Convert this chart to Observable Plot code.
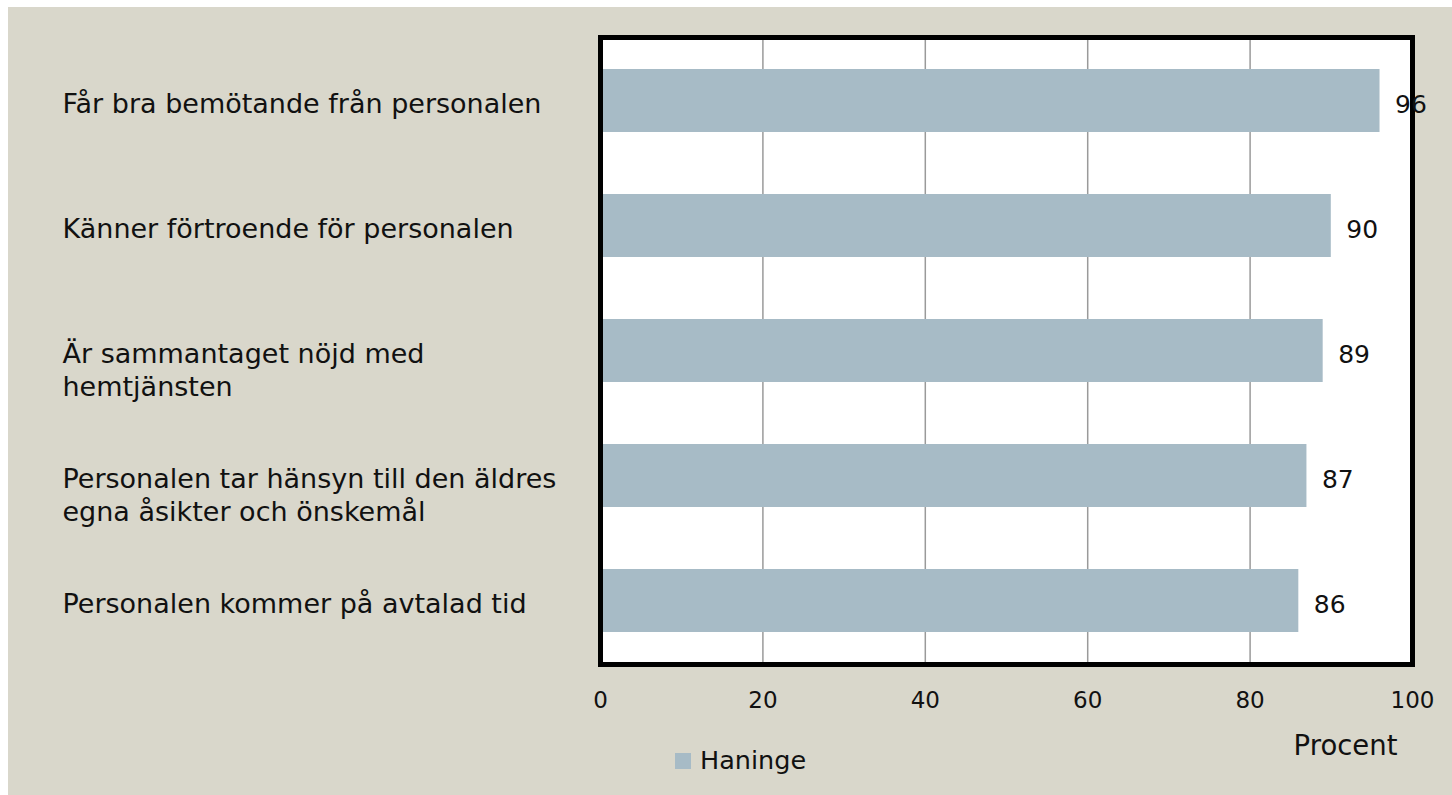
<!DOCTYPE html>
<html>
<head>
<meta charset="utf-8">
<script src="https://cdn.jsdelivr.net/npm/d3@7"></script>
<script src="https://cdn.jsdelivr.net/npm/@observablehq/plot@0.6"></script>
<style>
  html, body { margin: 0; padding: 0; background: #ffffff; overflow: hidden; }
  #chart { position: absolute; left: 8px; top: 7px; width: 1460px; height: 810px; background: #d9d7cb; overflow: hidden; }
  #chart svg { display: block; }
  .lg-swatch { position: absolute; left: 667px; top: 746px; width: 16px; height: 16px; background: #a7bbc6; }
  .lg-text { position: absolute; left: 692px; top: 741px; font-family: "DejaVu Sans", sans-serif; font-size: 25.5px; line-height: 25px; color: #111; white-space: nowrap; }
</style>
</head>
<body>
<div id="chart"></div>
<script>
const categories = [
  "Får bra bemötande från personalen",
  "Känner förtroende för personalen",
  "Är sammantaget nöjd med\nhemtjänsten",
  "Personalen tar hänsyn till den äldres\negna åsikter och önskemål",
  "Personalen kommer på avtalad tid"
];
const values = [96, 90, 89, 87, 86];
const xTicks = [0, 20, 40, 60, 80, 100];
const gridTicks = [20, 40, 60, 80];
const seriesName = "Haninge";
const axisTitle = "Procent";

const barColor = "#a7bbc6";
const font = "DejaVu Sans, sans-serif";

const rows = categories.map((c, i) => ({category: c, value: values[i]}));

const chart = Plot.plot({
  width: 1444,
  height: 788,
  marginLeft: 592,
  marginRight: 40,
  marginTop: 30,
  marginBottom: 131,
  style: {background: "transparent", fontFamily: font, fontSize: "25px", color: "#111"},
  x: {domain: [0, 100], axis: null},
  y: {domain: categories, axis: null, paddingInner: 0.5, paddingOuter: 0.25},
  marks: [
    Plot.frame({fill: "white", stroke: null}),
    Plot.gridX(gridTicks, {stroke: "#9a9a9a", strokeOpacity: 1, strokeWidth: 1.5}),
    Plot.barX(rows, {x: "value", y: "category", fill: barColor}),
    Plot.frame({stroke: "black", strokeWidth: 5}),
    Plot.text(rows, {y: "category", text: "category", frameAnchor: "left", textAnchor: "start",
      dx: -538, lineAnchor: "top", lineHeight: 1.222, dy: -11.5, fontSize: 27, fill: "#111"}),
    Plot.text(rows, {y: "category", x: "value", text: d => String(d.value), textAnchor: "start",
      dx: 15, dy: 4, fontSize: 25, fill: "#111"}),
    Plot.axisX({ticks: xTicks, tickSize: 0, tickPadding: 27, fontSize: 23, label: null, fill: "#111"}),
    Plot.text([axisTitle], {frameAnchor: "bottom-right", textAnchor: "end", lineAnchor: "bottom",
      dx: -15, dy: 90, fontSize: 27.5, fill: "#111"})
  ]
});

const container = document.getElementById("chart");
container.appendChild(chart);
const sw = document.createElement("div");
sw.className = "lg-swatch";
container.appendChild(sw);
const lt = document.createElement("div");
lt.className = "lg-text";
lt.textContent = seriesName;
container.appendChild(lt);
</script>
</body>
</html>
